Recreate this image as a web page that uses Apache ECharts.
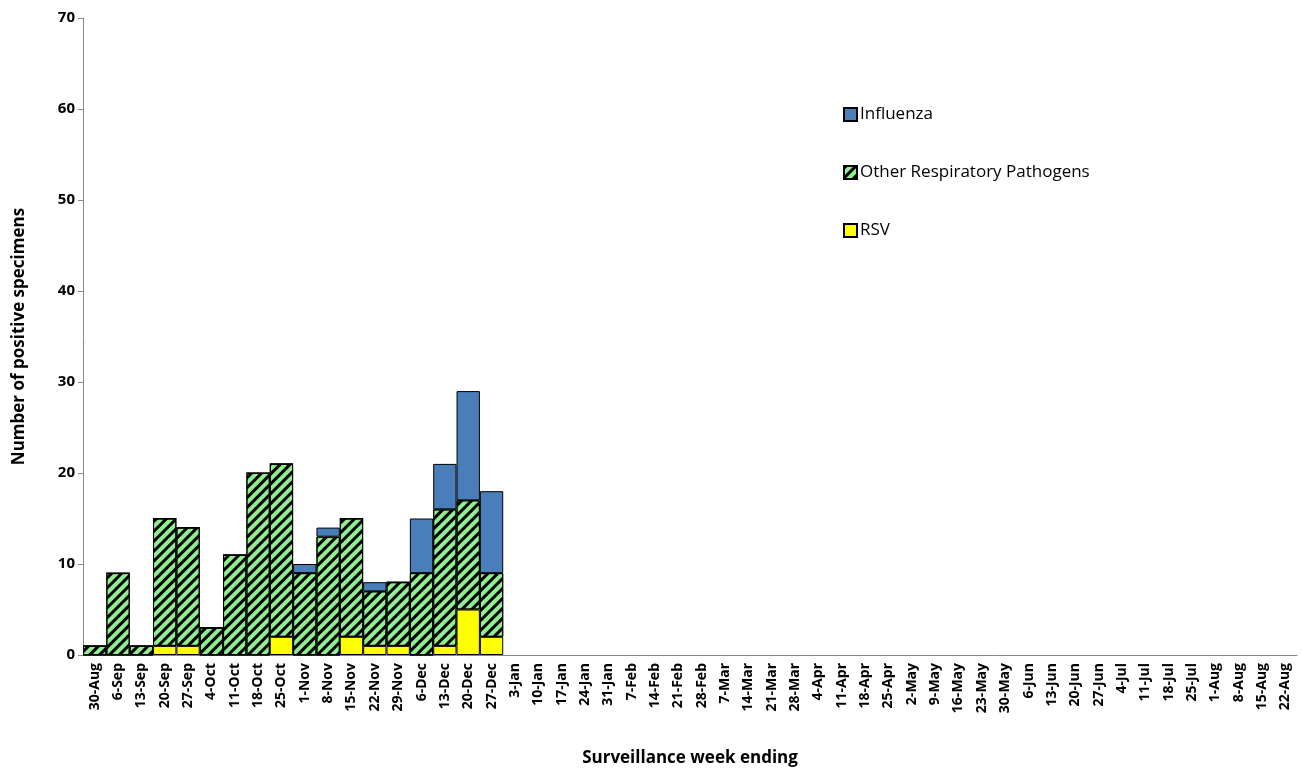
<!DOCTYPE html>
<html><head><meta charset="utf-8">
<script src="https://cdn.jsdelivr.net/npm/echarts@6/dist/echarts.min.js"></script>
<style>html,body{margin:0;padding:0;background:#fff}#c{width:1302px;height:770px}</style>
</head><body><div id="c"></div>
<script>
const categories=['30-Aug','6-Sep','13-Sep','20-Sep','27-Sep','4-Oct','11-Oct','18-Oct','25-Oct','1-Nov','8-Nov','15-Nov','22-Nov','29-Nov','6-Dec','13-Dec','20-Dec','27-Dec','3-Jan','10-Jan','17-Jan','24-Jan','31-Jan','7-Feb','14-Feb','21-Feb','28-Feb','7-Mar','14-Mar','21-Mar','28-Mar','4-Apr','11-Apr','18-Apr','25-Apr','2-May','9-May','16-May','23-May','30-May','6-Jun','13-Jun','20-Jun','27-Jun','4-Jul','11-Jul','18-Jul','25-Jul','1-Aug','8-Aug','15-Aug','22-Aug'];
const rsv=[0,0,0,1,1,0,0,0,2,0,0,2,1,1,0,1,5,2];
const other=[1,9,1,14,13,3,11,20,19,9,13,13,6,7,9,15,12,7];
const influenza=[0,0,0,0,0,0,0,0,0,1,1,0,1,0,6,5,12,9];
const ff='"Open Sans", Calibri, sans-serif';
const chart=echarts.init(document.getElementById('c'));
const base={type:'bar',stack:'a',barCategoryGap:'0%'};
chart.setOption({
  animation:false,
  textStyle:{fontFamily:ff},
  grid:{left:83,right:5,top:18,bottom:115,outerBoundsMode:'none',containLabel:false},
  legend:{orient:'vertical',left:838,top:101,itemGap:41,itemWidth:13,itemHeight:13,icon:'rect',
    textStyle:{fontSize:17,color:'#000',fontFamily:ff,padding:[0,0,0,-2]},
    data:['Influenza','Other Respiratory Pathogens','RSV']},
  xAxis:{type:'category',data:categories,name:'Surveillance week ending',nameLocation:'middle',nameGap:95,
    nameTextStyle:{fontSize:17,fontWeight:'bold',color:'#000'},
    axisLine:{lineStyle:{color:'#888'}},axisTick:{interval:0,lineStyle:{color:'#888'}},
    axisLabel:{interval:0,rotate:90,fontSize:14,fontWeight:'bold',color:'#000'}},
  yAxis:{type:'value',min:0,max:70,interval:10,name:'Number of positive specimens',nameLocation:'middle',nameGap:55,
    nameTextStyle:{fontSize:17,fontWeight:'bold',color:'#000'},
    axisLine:{show:true,lineStyle:{color:'#888'}},axisTick:{show:true,lineStyle:{color:'#888'}},splitLine:{show:false},
    axisLabel:{fontSize:15,fontWeight:'bold',color:'#000'}},
  series:[
    Object.assign({},base,{name:'RSV',data:rsv,itemStyle:{color:'#ffff00',borderColor:'#000',borderWidth:1}}),
    Object.assign({},base,{name:'Other Respiratory Pathogens',data:other,itemStyle:{color:'#90ee90',borderColor:'#000',borderWidth:1,
      decal:{symbol:'rect',symbolSize:1,dashArrayX:[1,0],dashArrayY:[3,4],rotation:-Math.PI/4,color:'#000'}}}),
    Object.assign({},base,{name:'Influenza',data:influenza,itemStyle:{color:'#4a7ebb',borderColor:'#000',borderWidth:1}})
  ]
});
</script></body></html>
